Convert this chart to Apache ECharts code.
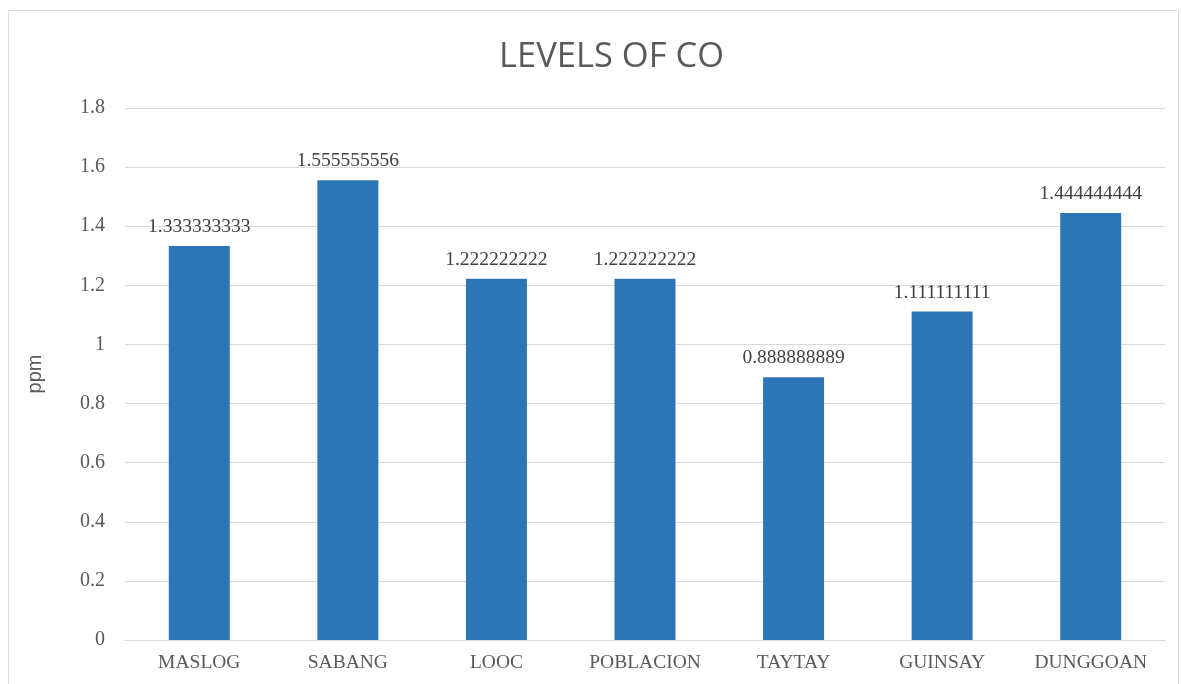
<!DOCTYPE html>
<html>
<head>
<meta charset="utf-8">
<script src="https://cdn.jsdelivr.net/npm/echarts@6/dist/echarts.min.js"></script>
<style>
  html, body { margin: 0; padding: 0; background: #fff; }
  #chart { width: 1181px; height: 684px; }
</style>
</head>
<body>
<div id="chart"></div>
<script>
// sampling sites
const sites = ['MASLOG', 'SABANG', 'LOOC', 'POBLACION', 'TAYTAY', 'GUINSAY', 'DUNGGOAN'];
// CO levels in ppm
const coLevels = [1.333333333, 1.555555556, 1.222222222, 1.222222222, 0.888888889, 1.111111111, 1.444444444];
const yTicks = { min: 0, max: 1.8, step: 0.2 };

const chart = echarts.init(document.getElementById('chart'));

const option = {
  backgroundColor: '#fff',
  animation: false,
  graphic: [{
    type: 'rect',
    shape: { x: 8.5, y: 10.5, width: 1170, height: 690 },
    style: { fill: 'none', stroke: '#d9d9d9', lineWidth: 1 },
    silent: true
  }],
  title: {
    text: 'LEVELS OF CO',
    left: 494,
    top: 35,
    textStyle: {
      fontFamily: 'Open Sans',
      fontWeight: 'normal',
      fontSize: 34.5,
      color: '#595959'
    }
  },
  grid: { left: 125, right: 16, top: 108, bottom: 44 },
  xAxis: {
    type: 'category',
    data: sites,
    axisLine: { lineStyle: { color: '#d9d9d9' } },
    axisTick: { show: false },
    axisLabel: {
      fontFamily: 'Liberation Serif',
      fontSize: 19.5,
      color: '#595959',
      margin: 13
    }
  },
  yAxis: {
    type: 'value',
    min: yTicks.min,
    max: yTicks.max,
    interval: yTicks.step,
    name: 'ppm',
    nameLocation: 'middle',
    nameGap: 80,
    nameTextStyle: { fontFamily: 'Liberation Sans', fontSize: 20, color: '#595959' },
    axisLine: { show: false },
    axisTick: { show: false },
    splitLine: { lineStyle: { color: '#d9d9d9' } },
    axisLabel: {
      fontFamily: 'Liberation Serif',
      fontSize: 20,
      color: '#595959',
      margin: 20,
      formatter: v => String(Math.round(v * 10) / 10)
    }
  },
  series: [{
    type: 'bar',
    data: coLevels,
    barWidth: 61,
    itemStyle: { color: '#2e75b6' },
    label: {
      show: true,
      position: 'top',
      distance: 9,
      fontFamily: 'Liberation Serif',
      fontSize: 19.5,
      color: '#404040',
      formatter: p => String(p.value)
    }
  }]
};

chart.setOption(option);
</script>
</body>
</html>
